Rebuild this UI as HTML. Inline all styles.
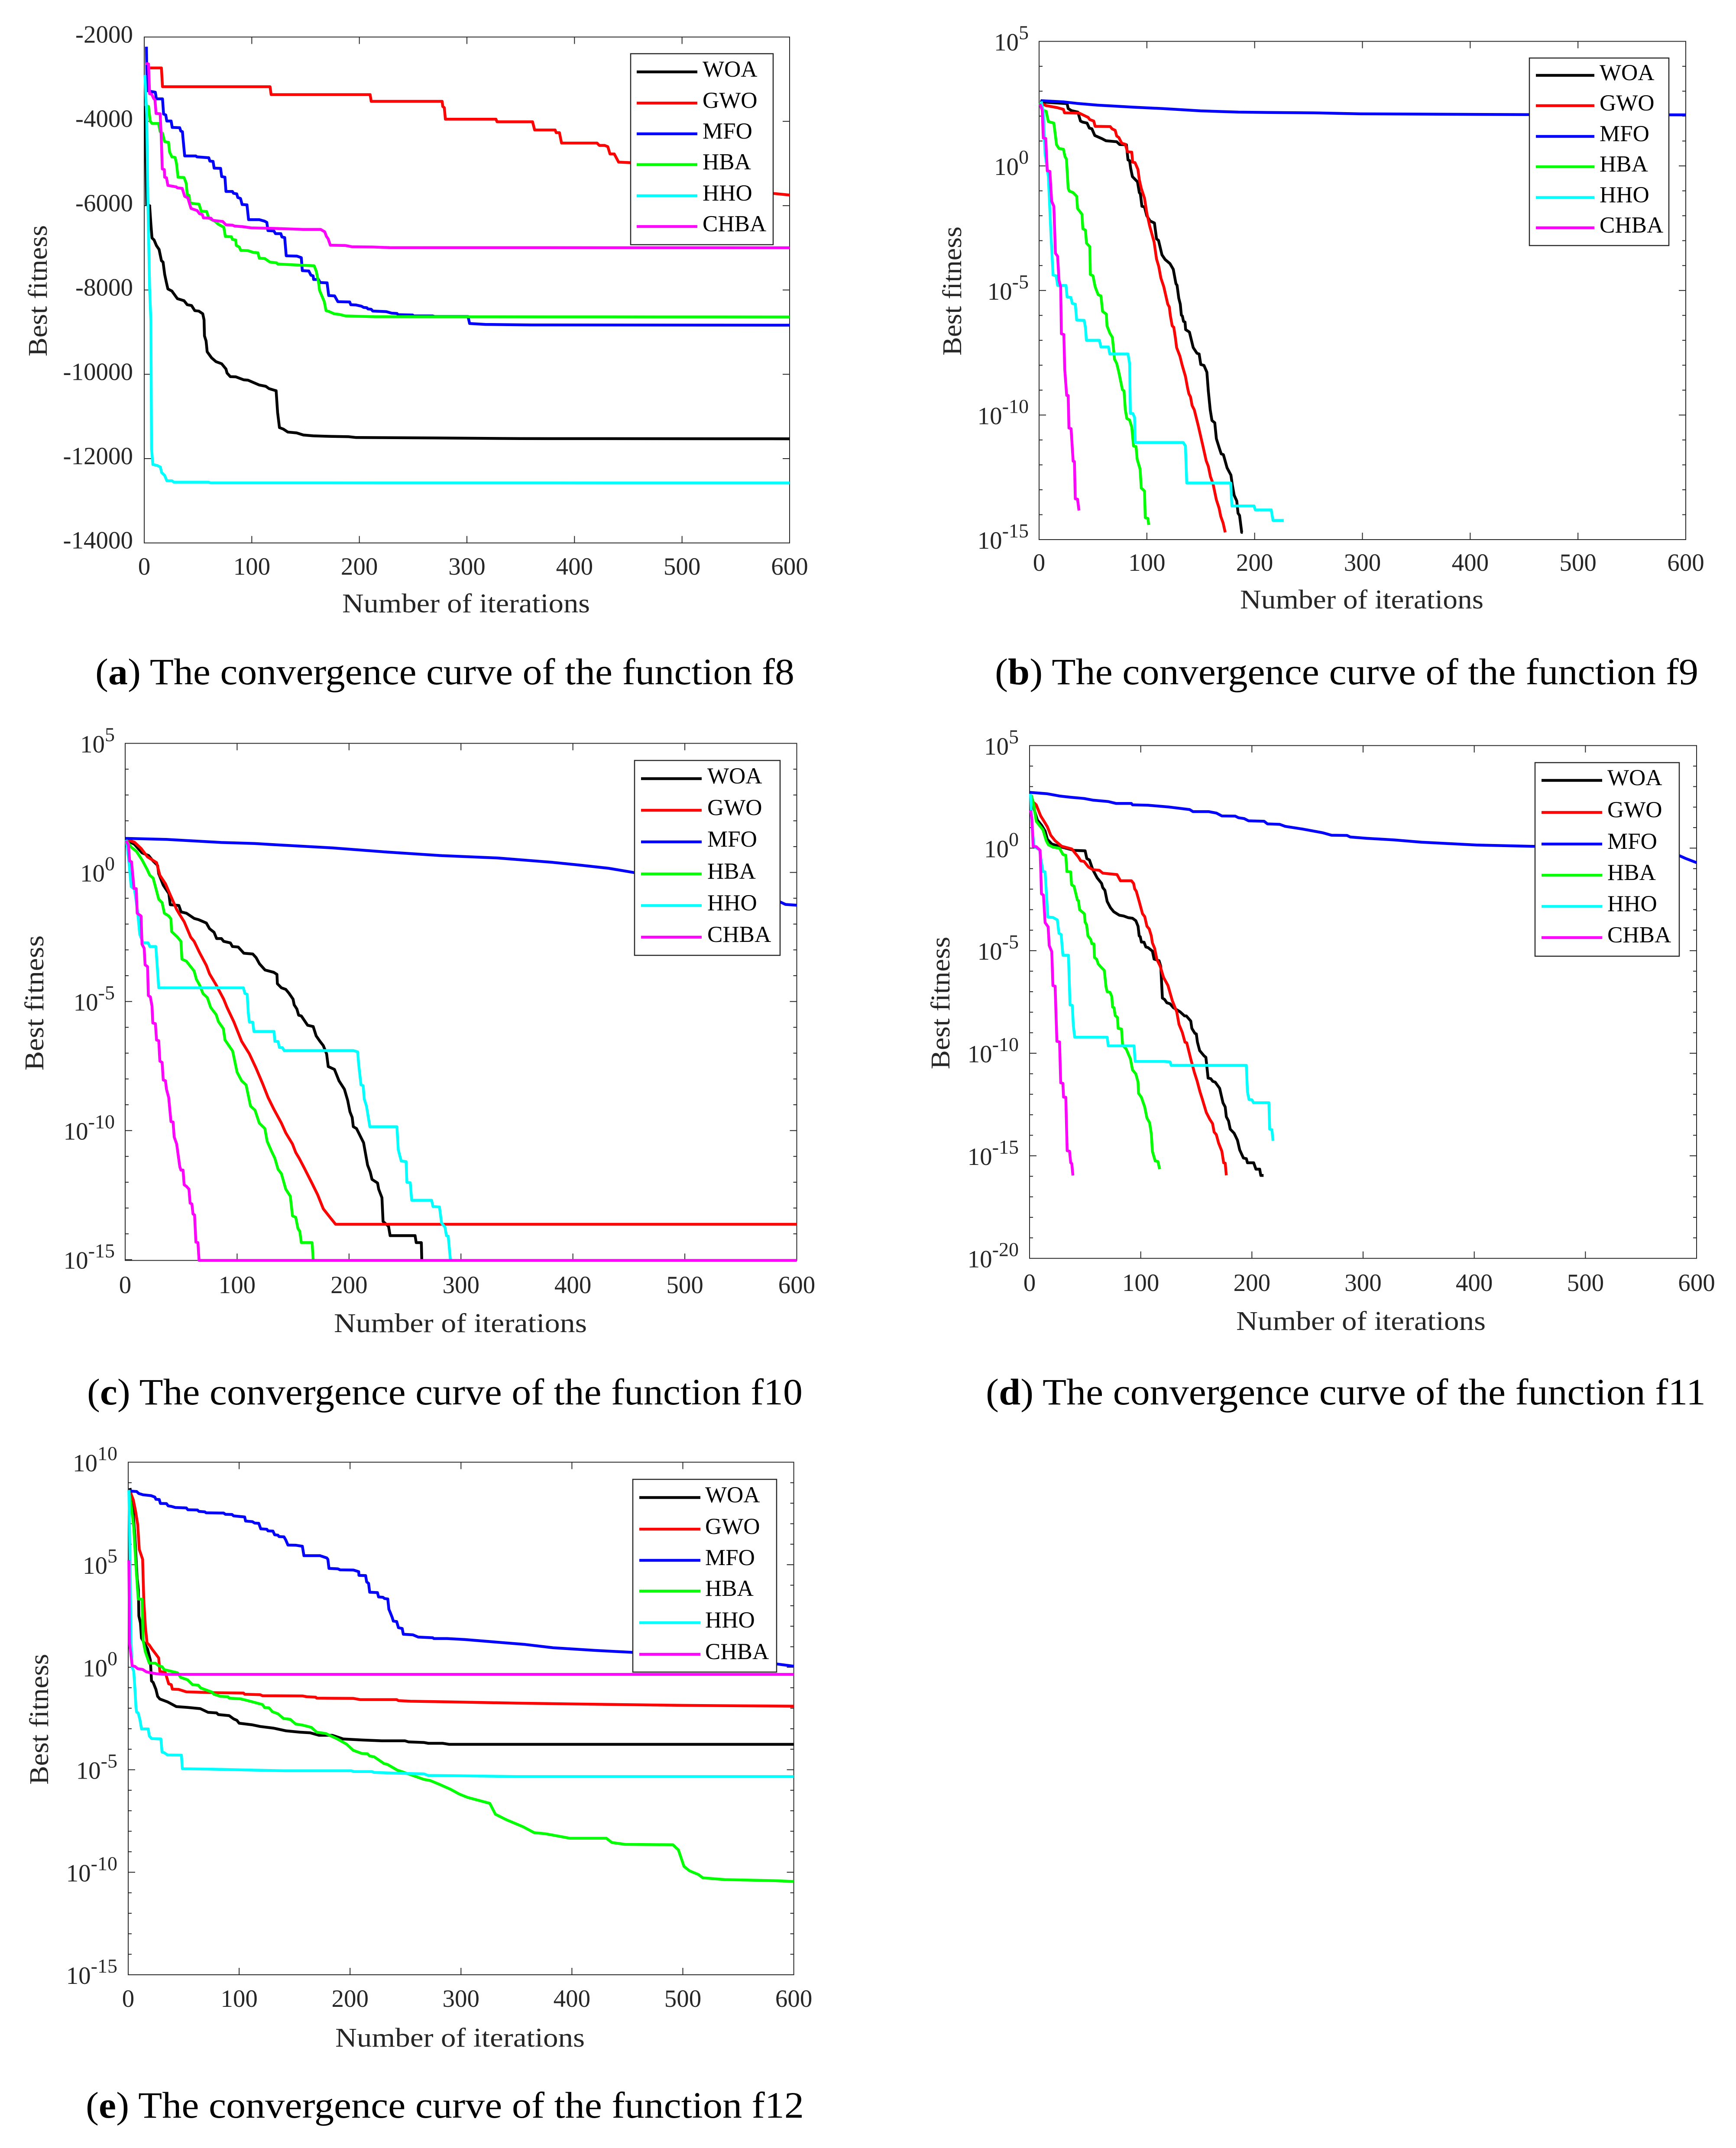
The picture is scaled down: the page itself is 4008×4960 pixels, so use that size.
<!DOCTYPE html>
<html lang="en">
<head>
<meta charset="utf-8">
<title>Convergence curves of functions f8 to f12</title>
<style>
html,body{margin:0;padding:0;background:#fff;width:4008px;height:4960px;overflow:hidden}
svg{display:block}
text{font-family:"Liberation Serif",serif}
.cap{font-size:86px;fill:#000}
.axt{font-size:62px;fill:#262626}
</style>
</head>
<body>
<svg id="fig" xmlns="http://www.w3.org/2000/svg" width="4008" height="4960" viewBox="0 0 4008 4960">
<rect width="4008" height="4960" fill="#fff"/>

<text class="cap" x="220" y="1580" textLength="1614" lengthAdjust="spacingAndGlyphs">(<tspan font-weight="bold">a</tspan>) The convergence curve of the function f8</text>
<text class="axt" x="790" y="1414" textLength="572" lengthAdjust="spacingAndGlyphs">Number of iterations</text>
<text class="axt" transform="translate(108,823) rotate(-90)" textLength="303" lengthAdjust="spacingAndGlyphs">Best fitness</text>

<text class="cap" x="2297" y="1580" textLength="1624" lengthAdjust="spacingAndGlyphs">(<tspan font-weight="bold">b</tspan>) The convergence curve of the function f9</text>
<text class="axt" x="2863" y="1405" textLength="562" lengthAdjust="spacingAndGlyphs">Number of iterations</text>
<text class="axt" transform="translate(2219,821) rotate(-90)" textLength="298" lengthAdjust="spacingAndGlyphs">Best fitness</text>

<text class="cap" x="201" y="3243" textLength="1652" lengthAdjust="spacingAndGlyphs">(<tspan font-weight="bold">c</tspan>) The convergence curve of the function f10</text>
<text class="axt" x="771" y="3076" textLength="584" lengthAdjust="spacingAndGlyphs">Number of iterations</text>
<text class="axt" transform="translate(100,2472) rotate(-90)" textLength="312" lengthAdjust="spacingAndGlyphs">Best fitness</text>

<text class="cap" x="2276" y="3243" textLength="1662" lengthAdjust="spacingAndGlyphs">(<tspan font-weight="bold">d</tspan>) The convergence curve of the function f11</text>
<text class="axt" x="2854" y="3071" textLength="576" lengthAdjust="spacingAndGlyphs">Number of iterations</text>
<text class="axt" transform="translate(2192,2469) rotate(-90)" textLength="306" lengthAdjust="spacingAndGlyphs">Best fitness</text>

<text class="cap" x="198" y="4890" textLength="1658" lengthAdjust="spacingAndGlyphs">(<tspan font-weight="bold">e</tspan>) The convergence curve of the function f12</text>
<text class="axt" x="774" y="4726" textLength="576" lengthAdjust="spacingAndGlyphs">Number of iterations</text>
<text class="axt" transform="translate(111,4121) rotate(-90)" textLength="302" lengthAdjust="spacingAndGlyphs">Best fitness</text>
</svg>

<script>
// ---------- shared categories and tick labels ----------
const iterationTicks = [0,100,200,300,400,500,600];
const algorithmNames = ['WOA','GWO','MFO','HBA','HHO','CHBA'];
const f8Ticks = [-2000,-4000,-6000,-8000,-10000,-12000,-14000];
const f9TickExps = [5,0,-5,-10,-15];
const f10TickExps = [5,0,-5,-10,-15];
const f11TickExps = [5,0,-5,-10,-15,-20];
const f12TickExps = [10,5,0,-5,-10,-15];

// ---------- f8: [iteration, best fitness] ----------
const f8Woa = [[1,-3633],[2.3,-5973],[5,-6000],[6.2,-6440],[7.2,-6765],[9.2,-6815],[11.3,-6945],[13.8,-7040],[16,-7305],[17.5,-7340],[19,-7630],[20.5,-7810],[22,-7975],[25.7,-8025],[30.8,-8205],[37,-8255],[40,-8350],[44,-8370],[47,-8490],[50.7,-8500],[54.4,-8565],[55.6,-8710],[56,-9090],[57.5,-9210],[58.5,-9465],[62.6,-9610],[66.7,-9700],[72,-9750],[76,-9875],[77,-9970],[80,-10055],[85,-10060],[92.4,-10130],[96.5,-10140],[107,-10255],[113,-10285],[116,-10340],[122.6,-10390],[124,-10905],[125.7,-11265],[129.4,-11300],[133.5,-11370],[141.7,-11390],[148,-11440],[157,-11460],[169,-11470],[190,-11480],[197,-11500],[268,-11510],[350,-11525],[600,-11530]];
const f8Gwo = [[1,-2733],[16,-2733],[17,-3179],[117,-3179],[118,-3366],[210,-3366],[211,-3525],[277,-3525],[277.5,-3647],[279,-3675],[280,-3950],[327,-3950],[328,-4010],[361,-4010],[363,-4204],[382,-4204],[383,-4269],[386,-4269],[388,-4516],[421,-4516],[423,-4570],[428,-4570],[431,-4602],[433,-4774],[437,-4774],[441,-4968],[452,-4980],[460,-5200],[480,-5400],[520,-5550],[560,-5680],[585,-5710],[600,-5748]];
const f8Mfo = [[2,-2229],[2.7,-3273],[10.3,-3309],[11.3,-3467],[17,-3467],[18,-3827],[20,-3849],[21,-3993],[25,-3993],[26,-4144],[33,-4151],[34,-4230],[35.5,-4245],[36,-4389],[37.6,-4821],[48,-4821],[49,-4842],[60,-4864],[61,-4943],[64,-4950],[65,-5109],[71,-5116],[72,-5310],[75,-5325],[76,-5663],[82,-5663],[83,-5706],[86,-5721],[87,-5807],[89.5,-5829],[91,-5973],[95.5,-5980],[97,-6333],[107,-6333],[112,-6369],[114,-6398],[115,-6592],[120.5,-6599],[122,-6664],[127,-6664],[128,-6743],[130.6,-6758],[132,-7190],[142,-7197],[146,-7233],[147,-7542],[153,-7550],[155,-7650],[157,-7665],[157.5,-7751],[162,-7751],[163.6,-7823],[170,-7830],[171.5,-8133],[177,-8140],[180,-8277],[191,-8284],[192,-8349],[197,-8356],[202,-8385],[204,-8414],[207,-8421],[208,-8450],[211,-8457],[212.5,-8500],[225,-8514],[230,-8550],[235,-8558],[236,-8586],[249.5,-8594],[250,-8615],[268,-8615],[270,-8630],[301,-8630],[302.5,-8795],[317,-8817],[360,-8830],[600,-8835]];
const f8Hba = [[1,-3633],[4,-3647],[5.5,-3993],[7.2,-4050],[13.3,-4050],[14.8,-4245],[17,-4280],[19,-4482],[22.6,-4497],[23.6,-4727],[25.7,-4842],[28.7,-4857],[30,-5000],[31.4,-5325],[37,-5332],[39,-5470],[40,-5735],[41.7,-5757],[42.5,-5937],[51,-5966],[53,-6131],[58,-6138],[60,-6297],[65.7,-6370],[68.8,-6440],[74,-6513],[75.4,-6729],[81,-6736],[82,-6800],[85,-6815],[85.6,-6945],[88.3,-6980],[89.7,-7060],[96.5,-7067],[101.6,-7110],[105.7,-7118],[107,-7247],[112,-7254],[117,-7340],[123,-7355],[124,-7384],[140.7,-7405],[158,-7427],[160,-7557],[162,-7809],[163,-8010],[165,-8133],[167.4,-8277],[169,-8490],[171.5,-8507],[176.6,-8565],[181.7,-8580],[187,-8615],[214.6,-8635],[600,-8640]];
const f8Hho = [[0.6,-2900],[2.3,-3850],[3.5,-6010],[5,-7950],[6.2,-8745],[6.8,-11770],[8,-12140],[12.3,-12165],[15,-12200],[16.2,-12330],[19,-12400],[21,-12525],[25.7,-12525],[27.7,-12560],[60,-12560],[61.6,-12575],[600,-12578]];
const f8Chba = [[1.4,-2625],[4,-2640],[5,-3345],[7,-3360],[8.8,-3460],[10,-3490],[11,-3813],[14.8,-3820],[15.8,-4353],[16.8,-5130],[18.7,-5145],[19,-5325],[20.7,-5340],[22,-5520],[29.8,-5555],[30.8,-5577],[35.3,-5590],[37.6,-5778],[40.5,-5815],[43.5,-6066],[49.3,-6117],[51.3,-6190],[54,-6210],[55,-6290],[62,-6297],[63.7,-6347],[73,-6376],[76,-6455],[82,-6462],[84,-6484],[91.4,-6498],[99.6,-6527],[122,-6540],[148,-6563],[164,-6563],[167.8,-6620],[169.4,-6730],[171,-6786],[173,-6938],[187,-6945],[193,-6974],[212.5,-6981],[228,-6995],[600,-6998]];

// ---------- f9: [iteration, log10(best fitness)] ----------
const f9WoaLog = [[0.8,2.57],[26,2.5],[27,2.3],[30,2.22],[36,2.16],[38.4,1.8],[40.4,1.76],[44.5,1.72],[46.6,1.52],[49,1.49],[51.7,1.22],[58,1.1],[62,1.01],[72,0.97],[74.7,0.86],[81,0.85],[82.5,0.24],[84,0.21],[85,-0.1],[86.6,-0.43],[91.3,-0.64],[93,-1.07],[94,-1.13],[95.4,-1.62],[97.8,-1.65],[99.9,-2],[103,-2.21],[107,-2.29],[109,-2.93],[110.8,-2.99],[114,-3.57],[117,-3.76],[121.4,-3.92],[124.5,-4.15],[127,-4.73],[128,-4.79],[129.6,-5.31],[131,-5.55],[132,-5.99],[133,-6.03],[134,-6.24],[135.4,-6.27],[136,-6.57],[139.5,-6.67],[143,-7.29],[146.5,-7.52],[148.5,-7.55],[150,-7.97],[153,-8.01],[155.7,-8.28],[157,-9.03],[158.8,-9.79],[160.4,-10.22],[163,-10.31],[164.5,-10.95],[167,-11.3],[169,-11.56],[171,-11.59],[174.4,-12.12],[178,-12.41],[179.3,-12.81],[181,-13.22],[183.4,-13.45],[184.6,-13.94],[186,-14.03],[188,-14.71],[189,-14.71]];
const f9GwoLog = [[0.8,2.53],[6.6,2.42],[16.8,2.34],[22.6,2.27],[23.6,2.13],[37.3,2.12],[42.5,2.01],[45.5,1.95],[47,1.86],[50.7,1.8],[52,1.59],[66,1.58],[67.7,1.49],[70.6,1.43],[72,1.2],[74,1.14],[76.7,0.91],[80,0.87],[82,0.57],[86,0.55],[86.8,0.15],[89,0.13],[91.7,-0.14],[93,-0.55],[94.8,-0.9],[97.8,-1.3],[99.9,-1.88],[102.6,-2.41],[106.7,-3.05],[109,-3.74],[111,-4.03],[113,-4.5],[115.7,-4.85],[119.4,-5.55],[120.8,-5.66],[121.8,-6.01],[123.5,-6.42],[125,-6.48],[126.6,-6.94],[127.6,-7.29],[130.7,-7.64],[132.7,-7.99],[135.8,-8.45],[137.8,-8.92],[139,-9.15],[140.5,-9.27],[142,-9.62],[144,-9.79],[147.7,-10.43],[152,-11.24],[155,-11.83],[157,-12.06],[159,-12.47],[161.4,-12.76],[164.5,-13.4],[167,-13.74],[168.6,-14.07],[170.7,-14.33],[172.7,-14.71]];
const f9MfoLog = [[1.4,2.62],[23,2.57],[35,2.51],[54,2.44],[86.6,2.36],[115,2.3],[150,2.21],[185,2.16],[226,2.14],[255,2.13],[298,2.09],[450,2.06],[600,2.05]];
const f9HbaLog = [[0.8,2.53],[3.5,2.24],[6.6,2.19],[8.6,1.78],[13.7,1.72],[16.2,0.85],[18.5,0.7],[22.6,0.67],[24,0.38],[25.4,0.27],[27,-0.9],[28,-1.01],[31.6,-1.07],[34.9,-1.22],[35.7,-1.71],[39.8,-1.94],[40.6,-2.52],[43,-2.58],[44,-3.1],[47,-3.24],[47.6,-4.36],[50,-4.41],[52,-4.85],[54.8,-5.17],[57.4,-5.22],[58.9,-5.84],[62.4,-5.95],[63,-6.42],[65.6,-6.71],[68,-6.88],[70,-7.76],[72,-7.93],[74,-8.28],[77.3,-8.98],[78.8,-9.03],[80,-9.79],[81.4,-10.14],[84,-10.2],[86,-10.49],[87.6,-11.24],[90,-11.27],[91,-11.77],[93.7,-12.17],[94.8,-12.93],[97.8,-13.05],[98.5,-14.12],[101,-14.15],[101.7,-14.41]];
const f9HhoLog = [[2,2.59],[4,2.13],[5.5,0.5],[8.6,-0.43],[11,-2.76],[13,-4.38],[15.8,-4.41],[17.2,-4.8],[25,-4.8],[26,-5.26],[29.5,-5.28],[30.8,-5.52],[33.6,-5.55],[34.9,-6.19],[41.8,-6.2],[43,-6.48],[43.9,-7],[56,-7],[57.4,-7.27],[64.4,-7.27],[65.6,-7.55],[82.5,-7.55],[84,-7.93],[84.7,-9.94],[87,-9.94],[88.6,-10.1],[89.2,-11.1],[133.7,-11.1],[135.8,-11.24],[137,-12.73],[177.8,-12.73],[178.9,-13.65],[199.4,-13.65],[200.6,-13.81],[215.4,-13.81],[217,-14.23],[227,-14.23]];
const f9ChbaLog = [[0.8,2.48],[2.9,2.24],[3.9,1.12],[6.2,1.1],[7.6,-0.2],[10,-0.22],[11.7,-1.42],[13.7,-1.62],[15.2,-3.51],[17.2,-3.63],[18.5,-4.59],[20,-4.85],[20.7,-6.74],[23,-6.77],[23.8,-8.16],[25.6,-9.21],[27,-9.22],[27.7,-10.52],[29.7,-10.55],[31.6,-11.85],[32.8,-11.87],[33.6,-13.36],[35.7,-13.38],[37,-13.83]];

// ---------- f10 ----------
const f10WoaLog = [[1.4,1.25],[8.3,1.09],[15,0.76],[21,0.65],[25,0.44],[29,0.27],[30,-0.05],[34,-0.49],[39,-0.82],[40.3,-1.25],[48,-1.28],[50,-1.53],[54.7,-1.58],[61.6,-1.78],[65.6,-1.83],[72.5,-1.96],[75.4,-2.18],[79.4,-2.32],[81.7,-2.56],[86,-2.56],[88,-2.67],[94,-2.73],[95.8,-2.87],[101,-2.89],[106,-3.13],[114,-3.16],[117,-3.3],[120,-3.54],[125,-3.78],[132.7,-3.87],[135.6,-3.95],[136,-4.31],[139.6,-4.47],[143.5,-4.53],[146.5,-4.69],[150,-4.91],[151,-5.13],[153.4,-5.29],[155,-5.53],[157.4,-5.56],[163,-5.92],[168,-5.97],[170.6,-6.33],[174,-6.54],[177,-6.71],[180,-7.03],[181.4,-7.52],[187,-7.63],[191,-8.07],[195.9,-8.4],[198.8,-8.83],[200.8,-9.27],[202.8,-9.49],[203.8,-9.85],[206.7,-9.92],[213,-10.47],[216.6,-11.34],[219,-11.61],[220.5,-11.89],[225.5,-12.03],[226.5,-12.27],[229.4,-12.6],[230.4,-13.52],[235.3,-13.71],[236.7,-14.07],[259,-14.07],[260,-14.34],[264.6,-14.34],[265,-15.03]];
const f10GwoLog = [[1.4,1.28],[8.3,1.17],[14.2,0.93],[20,0.6],[28,0.38],[31,-0.11],[36,-0.44],[40.9,-0.93],[45.8,-1.42],[48.8,-1.64],[52.7,-1.91],[58.6,-2.51],[61.6,-2.67],[66.5,-3.11],[72.5,-3.6],[75.4,-3.93],[81.3,-4.36],[88,-4.91],[91,-5.23],[97,-5.78],[104,-6.54],[111,-7.03],[116.9,-7.58],[122.8,-8.18],[127.7,-8.72],[132.7,-9.16],[139.6,-9.71],[143.5,-10.09],[149.5,-10.52],[152.4,-10.85],[155.4,-11.07],[160,-11.45],[167,-12.05],[172,-12.49],[177,-13.03],[183,-13.36],[188,-13.63],[600,-13.63]];
const f10MfoLog = [[0,1.32],[36.6,1.28],[86,1.16],[115.6,1.12],[135,1.07],[185,0.95],[234,0.79],[283,0.65],[333,0.56],[382,0.39],[407,0.28],[432,0.16],[454,0],[520,-0.5],[584,-1.12],[590,-1.24],[600,-1.27]];
const f10HbaLog = [[1,1.25],[5.3,0.98],[10,0.82],[15,0.49],[19.7,0.11],[22,-0.11],[25,-0.22],[27,-0.55],[30,-1.04],[33,-1.17],[35,-1.58],[39,-1.69],[40.9,-1.8],[41.5,-2.29],[46.8,-2.51],[49.8,-2.67],[50.7,-3.36],[54.7,-3.44],[61.6,-3.82],[63.6,-4.14],[66.5,-4.36],[69.5,-4.69],[73.4,-4.85],[76.4,-5.23],[81.3,-5.51],[83.3,-5.78],[87.7,-6.05],[89.2,-6.49],[96,-6.92],[100,-7.74],[104,-8.07],[108,-8.23],[112,-9.05],[116,-9.21],[119.8,-9.71],[124.8,-9.92],[126.8,-10.41],[130.7,-10.8],[133.7,-11.07],[136.6,-11.5],[139.6,-11.67],[143.5,-12.27],[147.5,-12.54],[149.5,-13.3],[152.4,-13.36],[154.4,-13.8],[156,-13.9],[157.4,-14.34],[167,-14.34],[168,-15.03]];
const f10HhoLog = [[1,1.25],[3.4,0.38],[5.3,-0.55],[8.3,-0.65],[11,-1.47],[13,-2.4],[16,-2.73],[20.5,-2.73],[22,-2.87],[27.4,-2.87],[30,-4.47],[105.6,-4.47],[107,-4.69],[109,-4.72],[110,-5.45],[111,-5.8],[114,-5.8],[115,-6.16],[133,-6.16],[133.7,-6.54],[136.6,-6.55],[137.8,-6.78],[140.6,-6.79],[142,-6.9],[203.8,-6.9],[207.7,-6.95],[208.7,-7.47],[210.7,-8.23],[212.6,-8.26],[213.6,-8.78],[215.6,-9.05],[218.6,-9.85],[242.8,-9.85],[244,-10.74],[246.6,-11.18],[251,-11.2],[251.7,-12],[254.7,-12.02],[256,-12.7],[273.8,-12.7],[275,-12.94],[280.8,-12.96],[282.7,-13.58],[285.7,-13.74],[287,-14.07],[288.6,-14.09],[290.6,-15.03]];
const f10ChbaLog = [[1,1.23],[3,1.04],[4,0.44],[5.7,0.41],[7.9,-0.62],[9.9,-0.63],[10.7,-1.58],[14.2,-1.69],[15,-2.78],[17,-2.94],[17.8,-3.58],[20,-3.65],[20.7,-4.77],[22.5,-4.82],[24,-5.18],[24.7,-5.83],[27,-5.86],[28,-6.49],[30,-6.52],[31,-7.31],[33,-7.36],[34,-8.04],[36,-8.07],[36.9,-8.4],[38.9,-8.72],[40.9,-9.65],[42.8,-9.67],[43.8,-10.25],[46,-10.52],[48.8,-11.4],[49.8,-11.53],[51.7,-11.53],[52.7,-12.1],[54.7,-12.16],[57,-12.27],[58,-12.81],[59.6,-12.84],[60.6,-13.23],[62,-13.27],[63.2,-14.32],[65,-14.34],[66,-15.03],[600,-15.03]];

// ---------- f11 ----------
const f11WoaLog = [[1,2.58],[4,1.91],[7,1.37],[11,1.1],[14,0.83],[16,0.43],[20,0.2],[29,0.05],[40,-0.11],[50,-0.13],[51.5,-0.51],[53.9,-0.58],[56.9,-1.05],[60.8,-1.45],[64.8,-1.72],[65.8,-1.92],[67.8,-2.06],[69.8,-2.6],[72.8,-2.91],[75.7,-3.1],[80.7,-3.27],[84.7,-3.31],[88.7,-3.39],[92.6,-3.42],[95.6,-3.54],[97.6,-3.81],[98.6,-4.28],[99.6,-4.32],[100.6,-4.58],[103,-4.59],[104.6,-4.82],[106.6,-4.85],[110.5,-5.02],[112,-5.41],[116.5,-5.49],[118,-5.76],[119.5,-7.31],[121.5,-7.38],[123.5,-7.54],[126.4,-7.59],[129.4,-7.78],[135.4,-7.98],[139.4,-8.18],[141,-8.18],[145,-8.43],[146,-8.79],[148.7,-9.03],[150,-9.06],[151,-9.46],[153,-9.87],[157,-10.13],[158.6,-10.2],[160.6,-11.21],[163,-11.24],[164.8,-11.37],[167,-11.41],[171,-11.71],[174,-12.42],[176,-12.62],[177,-13.1],[179,-13.3],[180.5,-13.7],[184,-13.9],[187,-14.24],[189,-14.71],[192.4,-15.11],[195,-15.14],[196,-15.34],[201.6,-15.34],[203.6,-15.65],[207,-15.65],[208,-15.96],[210.5,-15.96]];
const f11GwoLog = [[1.6,2.58],[3.2,2.25],[6,2.11],[10,1.57],[13,1.31],[16,1.04],[19,0.63],[23,0.36],[29,0.09],[38,-0.04],[44,-0.44],[46,-0.62],[49,-0.65],[53,-0.92],[56.9,-1.05],[62.8,-1.08],[65.8,-1.22],[78.7,-1.29],[81.7,-1.59],[91.6,-1.59],[93.6,-1.72],[94.6,-1.99],[96,-2.1],[98.6,-2.6],[101.6,-3.2],[103.6,-3.34],[105.6,-3.81],[107.6,-3.94],[109.5,-4.28],[110.5,-4.62],[112.5,-4.89],[114.5,-5.42],[117.5,-5.76],[120.5,-6.3],[124.5,-6.7],[128.4,-7.44],[132.4,-7.98],[134.4,-8.59],[137.4,-8.99],[139.8,-9.46],[141.4,-9.49],[145.3,-10.34],[148.3,-10.94],[150.7,-11.35],[153.3,-11.88],[155.3,-12.22],[159,-12.89],[162.2,-13.23],[164.6,-13.43],[166,-13.84],[168,-13.97],[170,-14.37],[173,-14.78],[174.6,-15.34],[176,-15.36],[177,-15.95]];
const f11MfoLog = [[0,2.72],[16,2.65],[27,2.54],[37,2.48],[49,2.42],[56.9,2.34],[70.8,2.27],[77.7,2.18],[91.6,2.18],[92.6,2.11],[106.6,2.09],[124.4,2.01],[144,1.88],[147,1.78],[161,1.78],[168,1.71],[173,1.57],[185,1.56],[188,1.48],[193,1.44],[197,1.33],[211,1.31],[214,1.18],[225,1.16],[230,1.06],[245.7,0.93],[263.6,0.75],[271.6,0.63],[285.5,0.62],[288.5,0.54],[303,0.48],[328,0.4],[352.6,0.29],[402,0.15],[452,0.09],[500,0.05],[550,-0.1],[585,-0.38],[590,-0.5],[600,-0.71]];
const f11HbaLog = [[1.6,2.58],[4,2.05],[6,1.31],[9,1.1],[12,0.9],[15,0.36],[17,0.16],[21,0.05],[27,-0.01],[30,-0.31],[32.6,-0.35],[33.6,-1.14],[37,-1.16],[37.8,-1.79],[40,-1.86],[43,-2.53],[44,-2.56],[45,-3],[48,-3.14],[49.3,-3.2],[50,-3.61],[51.3,-3.74],[52.5,-4.28],[55,-4.45],[56,-4.66],[57.9,-4.67],[58.4,-5.33],[60.4,-5.42],[61.8,-5.65],[64.8,-5.83],[67.2,-5.96],[68.8,-6.77],[69.8,-7],[72.4,-7.03],[74,-7.24],[74.7,-7.75],[76,-7.78],[77,-8.16],[79,-8.25],[79.7,-8.79],[82.7,-8.82],[83.7,-9.6],[87,-9.8],[90.7,-10.27],[92.6,-10.81],[95.6,-11.01],[97.6,-11.41],[98,-11.95],[100.6,-12.15],[103.6,-12.62],[105.6,-13.16],[108,-13.39],[109.5,-13.93],[110.5,-14.78],[113,-15.25],[115.5,-15.28],[117,-15.65]];
const f11HhoLog = [[0.8,2.65],[2.2,1.1],[4,0.09],[9,-0.08],[12,-1.14],[14,-1.16],[16.5,-3.36],[21,-3.38],[25,-3.5],[26.4,-4.15],[28.4,-4.21],[30,-5.22],[35,-5.22],[36.4,-7.64],[38.4,-7.67],[39.4,-8.65],[40.6,-9.22],[69.8,-9.22],[70.8,-9.64],[94,-9.64],[95,-10.4],[120.5,-10.4],[126.4,-10.42],[127.4,-10.59],[195,-10.59],[196,-11.88],[197.4,-12.26],[200,-12.27],[201.4,-12.41],[215.3,-12.41],[216,-13.7],[218,-13.73],[219,-14.27]];
const f11ChbaLog = [[0.8,1.84],[2.2,1.41],[3.2,0.09],[6,0.07],[9.5,-0.11],[10.7,-2.23],[12.5,-2.29],[14,-3.63],[16.7,-3.84],[17.7,-4.75],[20,-5.05],[21,-6.7],[23,-6.73],[24.6,-9.42],[27,-9.45],[28,-11.44],[30,-11.47],[30.6,-12.14],[32.6,-12.15],[33.8,-14.75],[36,-14.78],[37,-15.34],[38,-15.38],[39,-15.96]];

// ---------- f12 ----------
const f12WoaLog = [[1.6,8.74],[3.6,8.16],[6,6.41],[8,4.39],[9.2,3.78],[9.6,2.5],[11,2.16],[12,1.42],[15.5,1.08],[17.5,0.88],[20,0.34],[21,-0.67],[22.5,-0.74],[25,-1.08],[26.5,-1.42],[28.5,-1.55],[35.5,-1.69],[43.4,-1.92],[53.4,-1.96],[65,-2.02],[72,-2.2],[79.7,-2.23],[81.3,-2.31],[91,-2.36],[95,-2.52],[98,-2.59],[100,-2.73],[112,-2.81],[119,-2.89],[131,-2.97],[142,-3.1],[155,-3.17],[164,-3.2],[172,-3.32],[183.9,-3.32],[193.8,-3.5],[210.8,-3.55],[228.7,-3.59],[249.6,-3.59],[252.6,-3.64],[266.5,-3.67],[270.5,-3.71],[283.5,-3.71],[289.4,-3.76],[600,-3.76]];
const f12GwoLog = [[1.2,8.64],[4.6,8.16],[6.6,7.62],[8.6,6.95],[10,5.74],[11.6,5.49],[13,5.26],[14,3.31],[15.5,1.96],[17,1.19],[19,1.08],[21.5,0.88],[24.5,0.67],[27.5,0.45],[28.5,-0.2],[33.5,-0.27],[36.5,-0.81],[38.8,-0.85],[39.8,-1.07],[45.4,-1.08],[52.4,-1.2],[76.3,-1.24],[104,-1.26],[105,-1.32],[119,-1.34],[121,-1.39],[157,-1.4],[161,-1.44],[169,-1.46],[170,-1.51],[203,-1.52],[209,-1.58],[242,-1.58],[243.6,-1.63],[254.6,-1.66],[290,-1.69],[350,-1.75],[400,-1.79],[500,-1.86],[600,-1.9]];
const f12MfoLog = [[0.6,8.6],[7.6,8.57],[9.6,8.47],[13.5,8.41],[20.5,8.37],[24,8.3],[25,8.19],[28,8.18],[29,7.99],[34.5,7.98],[36,7.87],[39.4,7.84],[42.4,7.79],[52.4,7.77],[53.8,7.68],[62.4,7.67],[63.7,7.6],[69,7.58],[70.3,7.53],[86,7.52],[87.6,7.46],[93.6,7.45],[95,7.38],[101,7.35],[105,7.33],[105.8,7.13],[112,7.1],[114,7.03],[117.7,7.02],[119.5,6.75],[125,6.73],[126,6.65],[130.5,6.64],[132,6.46],[135,6.44],[136,6.37],[140.4,6.36],[142,6.21],[144,5.96],[151,5.95],[157,5.9],[158.4,5.44],[173,5.44],[179,5.33],[180,5.26],[181,4.82],[189,4.8],[191,4.75],[203,4.74],[207.8,4.66],[208,4.48],[214,4.47],[215,4.16],[216.7,4.09],[217.7,3.66],[224.7,3.64],[225.7,3.43],[229.7,3.41],[231,3.35],[234,3.33],[235,2.83],[236,2.7],[238,2.43],[239,2.25],[242,2.23],[243.6,1.93],[247,1.89],[248,1.61],[256.6,1.58],[261.5,1.47],[274.5,1.44],[275.5,1.4],[287.5,1.4],[303.4,1.35],[358,1.11],[383,0.95],[421,0.82],[453,0.73],[500,0.55],[584.6,0.16],[600,0.05]];
const f12HbaLog = [[0.6,8.64],[3,7.76],[5,6.82],[7,4.93],[9,3.33],[12.5,3.32],[13.5,1.28],[15.5,0.74],[19,0.2],[24.5,0.2],[27.5,0.07],[30.5,0.03],[32.5,-0.12],[37.5,-0.18],[44.4,-0.27],[47.4,-0.5],[53.4,-0.61],[58,-0.85],[63.3,-0.88],[65.3,-1.01],[75.3,-1.21],[77.3,-1.32],[83.3,-1.42],[90,-1.44],[91,-1.51],[101,-1.54],[110,-1.66],[121,-1.82],[123,-1.97],[127,-1.98],[130,-2.17],[135,-2.27],[140,-2.5],[146,-2.54],[151,-2.77],[157,-2.82],[165,-2.93],[170,-3.17],[178,-3.23],[189,-3.51],[196.8,-3.75],[202.8,-4.05],[210.8,-4.21],[215.7,-4.22],[217.7,-4.33],[221.7,-4.37],[230.7,-4.7],[233.7,-4.74],[242.6,-5.02],[246.6,-5.09],[266.5,-5.47],[272.5,-5.53],[280.5,-5.71],[290.4,-5.95],[298.6,-6.19],[306,-6.35],[326,-6.64],[331,-7.17],[341,-7.44],[356,-7.78],[366,-8.07],[376,-8.12],[398,-8.34],[431,-8.34],[436,-8.55],[448,-8.64],[491,-8.66],[496,-8.91],[501,-9.71],[506,-9.93],[514,-10.11],[518,-10.27],[538,-10.36],[583,-10.41],[600,-10.45]];
const f12HhoLog = [[0.6,8.64],[1.6,5.47],[2.6,1.15],[3.6,0],[5,-0.2],[6,-1.01],[7,-1.96],[7.6,-2.19],[9,-2.23],[10.6,-2.56],[12,-3.01],[18,-3.01],[19,-3.35],[21,-3.48],[29.5,-3.5],[30.5,-4.14],[32.5,-4.17],[35.5,-4.28],[48,-4.29],[48.8,-4.95],[73,-4.97],[105,-5.01],[140,-5.05],[200.8,-5.05],[203.8,-5.09],[219.7,-5.09],[221.7,-5.13],[242.6,-5.17],[266.5,-5.2],[270.5,-5.28],[292.4,-5.29],[350,-5.33],[600,-5.33]];
const f12ChbaLog = [[0.6,5.22],[1.2,1.15],[3.6,0.07],[6,0.04],[8.6,-0.07],[13,-0.11],[16.5,-0.23],[25.5,-0.32],[34.5,-0.35],[600,-0.35]];

const seriesColors = ['#000000','#ff0000','#0000ff','#00ff00','#00ffff','#ff00ff'];
const NS = 'http://www.w3.org/2000/svg';
const fig = document.getElementById('fig');

function make(tag, parent, attrs) {
  const el = document.createElementNS(NS, tag);
  for (const k in attrs) el.setAttribute(k, attrs[k]);
  parent.appendChild(el);
  return el;
}

const panels = [
  {id:'f8', log:false, left:333, right:1823, top:85.5, bottom:1253.7, yMax:-2000, yMin:-14000, ticks:f8Ticks, xLabelY:1327, yLabelRight:307,
   series:[f8Woa,f8Gwo,f8Mfo,f8Hba,f8Hho,f8Chba],
   legend:{left:1456,right:1785,top:124,bottom:565,lineL:1470,lineR:1610,textX:1622,rows:[166,238,309,380,452,523]}},
  {id:'f9', log:true, left:2399, right:3892, top:95.5, bottom:1246, yMax:5, yMin:-15, ticks:f9TickExps, xLabelY:1318, yLabelRight:2375,
   series:[f9WoaLog,f9GwoLog,f9MfoLog,f9HbaLog,f9HhoLog,f9ChbaLog],
   legend:{left:3531,right:3853,top:134,bottom:567,lineL:3546,lineR:3681,textX:3693,rows:[174,244,315,385,456,526]}},
  {id:'f10', log:true, left:289, right:1839.5, top:1716.5, bottom:2910.5, yMax:5, yMin:-15.03, ticks:f10TickExps, xLabelY:2986, yLabelRight:265,
   series:[f10WoaLog,f10GwoLog,f10MfoLog,f10HbaLog,f10HhoLog,f10ChbaLog],
   legend:{left:1465,right:1801,top:1756,bottom:2206,lineL:1480,lineR:1620,textX:1633,rows:[1798,1871,1944,2018,2091,2164]}},
  {id:'f11', log:true, left:2377, right:3917, top:1721.6, bottom:2905.7, yMax:5, yMin:-20, ticks:f11TickExps, xLabelY:2981, yLabelRight:2352,
   series:[f11WoaLog,f11GwoLog,f11MfoLog,f11HbaLog,f11HhoLog,f11ChbaLog],
   legend:{left:3544,right:3877,top:1761,bottom:2208,lineL:3559,lineR:3699,textX:3711,rows:[1802,1876,1949,2021,2093,2165]}},
  {id:'f12', log:true, left:296, right:1832.6, top:3376.4, bottom:4560, yMax:10, yMin:-15, ticks:f12TickExps, xLabelY:4634, yLabelRight:271,
   series:[f12WoaLog,f12GwoLog,f12MfoLog,f12HbaLog,f12HhoLog,f12ChbaLog],
   legend:{left:1461,right:1793,top:3416,bottom:3861,lineL:1476,lineR:1617,textX:1628,rows:[3458,3531,3603,3674,3747,3820]}}
];

panels.forEach(function (p) {
  const xScale = function (iter) { return p.left + (iter / 600) * (p.right - p.left); };
  const yScale = function (v) { return p.top + ((p.yMax - v) / (p.yMax - p.yMin)) * (p.bottom - p.top); };

  const g = make('g', fig, {});
  
  

  // x ticks and labels
  iterationTicks.forEach(function (t) {
    const x = xScale(t);
    if (t > 0 && t < 600) {
      const tb = make('line', g, {x1:x, x2:x, y1:p.bottom, y2:p.bottom - 16, stroke:'#262626', 'stroke-width':2});
      
      
      const tt = make('line', g, {x1:x, x2:x, y1:p.top, y2:p.top + 16, stroke:'#262626', 'stroke-width':2});
      
      
    }
    const lab = make('text', g, {x:x, y:p.xLabelY, 'text-anchor':'middle', 'font-size':57, fill:'#262626'});
    lab.textContent = String(t);
    
    
  });

  // y ticks and labels
  p.ticks.forEach(function (t) {
    const y = yScale(t);
    if (t !== p.yMax && t !== p.yMin) {
      const tl = make('line', g, {x1:p.left, x2:p.left + 16, y1:y, y2:y, stroke:'#262626', 'stroke-width':2});
      
      
      const tr = make('line', g, {x1:p.right, x2:p.right - 16, y1:y, y2:y, stroke:'#262626', 'stroke-width':2});
      
      
    }
    const lab = make('text', g, {x:p.yLabelRight, y:y + (p.log ? 21 : 13), 'text-anchor':'end', 'font-size':57, fill:'#262626'});
    
    
    if (p.log) {
      const base = make('tspan', lab, {});
      base.textContent = '10';
      const sup = make('tspan', lab, {'font-size':46, dy:-26});
      sup.textContent = String(t);
    } else {
      lab.textContent = String(t);
    }
  });

  // minor decade ticks for log axes
  if (p.log) {
    for (let e = Math.floor(p.yMax) - 1; e >= Math.ceil(p.yMin); e--) {
      if (p.ticks.indexOf(e) >= 0) continue;
      const y = yScale(e);
      const ml = make('line', g, {x1:p.left, x2:p.left + 8, y1:y, y2:y, stroke:'#262626', 'stroke-width':2});
      
      
      const mr = make('line', g, {x1:p.right, x2:p.right - 8, y1:y, y2:y, stroke:'#262626', 'stroke-width':2});
      
      
    }
  }

  // plot box
  const box = make('rect', g, {x:p.left, y:p.top, width:p.right - p.left, height:p.bottom - p.top, fill:'none', stroke:'#262626', 'stroke-width':2});
  
  

  // series
  p.series.forEach(function (pts, i) {
    const d = pts.map(function (q) { return xScale(q[0]).toFixed(1) + ',' + yScale(q[1]).toFixed(1); }).join(' ');
    const line = make('polyline', g, {points:d, fill:'none', stroke:seriesColors[i], 'stroke-width':6.5, 'stroke-linejoin':'round'});
    
    
  });

  // legend
  const L = p.legend;
  const lg = make('g', g, {});
  
  
  const lbox = make('rect', lg, {x:L.left, y:L.top, width:L.right - L.left, height:L.bottom - L.top, fill:'#fff', stroke:'#262626', 'stroke-width':2.5});
  
  
  algorithmNames.forEach(function (name, i) {
    const ly = L.rows[i];
    const sw = make('line', lg, {x1:L.lineL, x2:L.lineR, y1:ly, y2:ly, stroke:seriesColors[i], 'stroke-width':6.5});
    
    
    const tx = make('text', lg, {x:L.textX, y:ly + 11, 'font-size':53, fill:'#000'});
    tx.textContent = name;
    
    
  });
});
</script>
</body>
</html>
